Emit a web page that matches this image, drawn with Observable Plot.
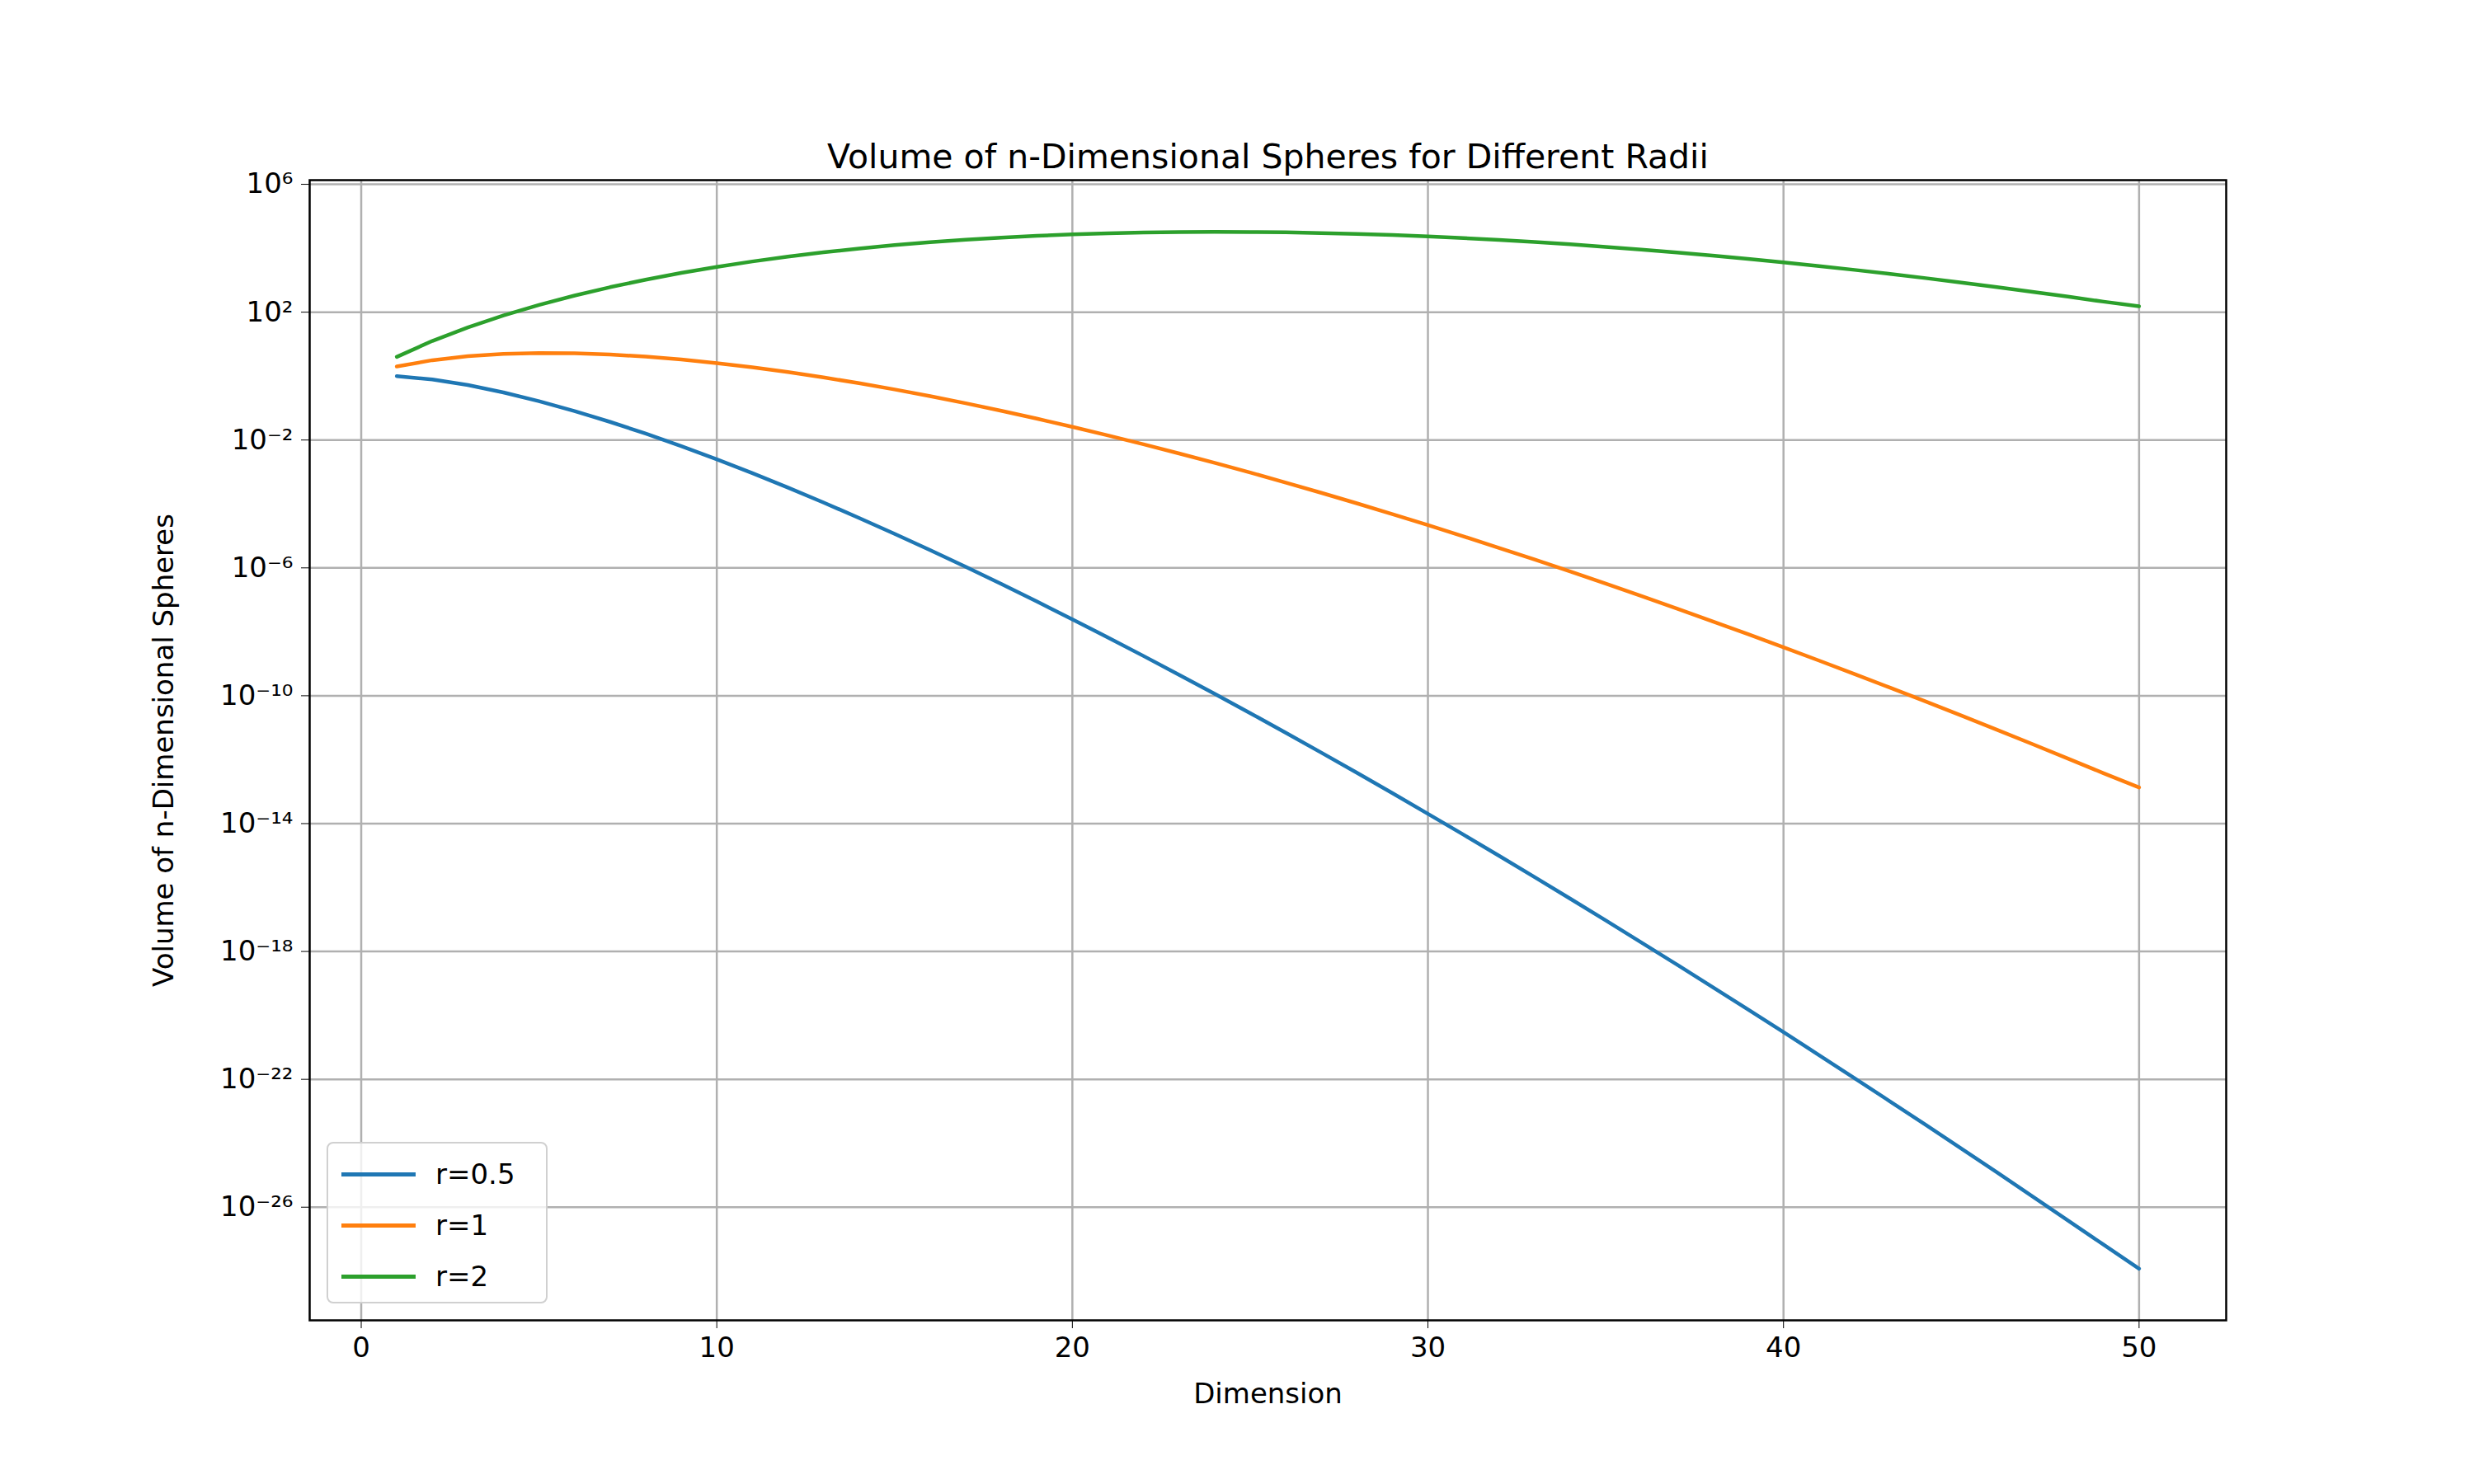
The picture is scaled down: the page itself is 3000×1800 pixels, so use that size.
<!DOCTYPE html>
<html><head><meta charset="utf-8">
<script src="https://cdn.jsdelivr.net/npm/d3@7"></script>
<script src="https://cdn.jsdelivr.net/npm/@observablehq/plot@0.6"></script>
<style>body{margin:0;background:#fff;font-family:"DejaVu Sans",sans-serif}#wrap{position:relative;width:3000px;height:1800px}
#legend{position:absolute;left:396px;top:1385px;width:268px;height:196px;border:2px solid #d0d0d0;border-radius:8px;background:rgba(255,255,255,0.8);font-size:34px;box-sizing:border-box;padding-top:6px}
.row{display:flex;align-items:center;height:62px}.sw{width:90px;height:5px;margin:0 24px 0 16px}</style>
</head><body><div id="wrap"><div id="legend"></div></div>
<script>
const dims = d3.range(1, 51);
const radii = ["r=0.5", "r=1", "r=2"];
const colors = ["#1f77b4", "#ff7f0e", "#2ca02c"];
const vHalf = [1,0.7854,0.5236,0.30843,0.16449,0.080745,0.036912,0.015854,0.0064424,0.0024904,9.1997e-4,3.2599e-4,1.1116e-4,3.6576e-5,1.1641e-5,3.5909e-6,1.0756e-6,3.1336e-7,8.8924e-8,2.4611e-8,6.6505e-9,1.7573e-9,4.5452e-10,1.1513e-10,2.8581e-11,6.9565e-12,1.6611e-12,3.893e-13,8.9597e-14,2.0259e-14,4.5031e-15,9.843e-16,2.1174e-16,4.4846e-17,9.3561e-18,1.9235e-18,3.8977e-19,7.7877e-20,1.5347e-20,2.9838e-21,5.7249e-22,1.0842e-22,2.0272e-23,3.7436e-24,6.8287e-25,1.2308e-25,2.1922e-26,3.8594e-27,6.7167e-28,1.1956e-28];
const vOne = [2,3.14159,4.18879,4.9348,5.26379,5.16771,4.72477,4.05871,3.29851,2.55016,1.8841,1.33526,0.910629,0.599265,0.381443,0.235331,0.140981,0.0821459,0.0466216,0.0258069,0.0139471,0.00737043,0.00381278,0.00193158,9.59016e-4,4.66848e-4,2.22953e-4,1.04502e-4,4.81009e-5,2.17532e-5,9.67e-6,4.2275e-6,1.8188e-6,7.7044e-7,3.2147e-7,1.3218e-7,5.357e-8,2.1407e-8,8.4375e-9,3.2807e-9,1.2589e-9,4.7682e-10,1.7831e-10,6.5856e-11,2.4026e-11,8.6606e-12,3.0851e-12,1.0863e-12,3.7811e-13,1.3462e-13];
const vTwo = [4,12.566,33.51,78.96,168.4,330.7,604.8,1039,1689,2611,3859,5469,7460,9818,12499,15423,18478,21534,24443,27061,29249,30914,31985,32407,32179,31330,29924,28052,25824,23357,20766,18157,15623,13236,11046,9083,7362,5885,4639,3607,2768,2097,1568,1159,845,609,434,306,213,152];
const yTicks = [1e6,1e2,1e-2,1e-6,1e-10,1e-14,1e-18,1e-22,1e-26];
const series = [vHalf, vOne, vTwo];
const data = series.flatMap((s, k) => s.map((v, i) => ({n: dims[i], v, r: radii[k]})));
const sup = {"-":"⁻","0":"⁰","1":"¹","2":"²","3":"³","4":"⁴","5":"⁵","6":"⁶","7":"⁷","8":"⁸","9":"⁹"};
const fmt = d => "10" + String(Math.round(Math.log10(d))).split("").map(c => sup[c]).join("");
const chart = Plot.plot({
  width: 3000, height: 1800,
  marginLeft: 375, marginRight: 301, marginTop: 218, marginBottom: 199,
  style: {fontFamily: "DejaVu Sans, sans-serif", fontSize: "34px", color: "#000"},
  x: {domain: [-1.45, 52.45], ticks: [0,10,20,30,40,50], tickSize: 10, tickPadding: 10, label: "Dimension", labelAnchor: "center", labelArrow: "none", labelOffset: 100, grid: false},
  y: {type: "log", domain: [Math.pow(10,-29.54), Math.pow(10,6.13)], ticks: yTicks, tickFormat: fmt, tickSize: 10, tickPadding: 10, label: "Volume of n-Dimensional Spheres", labelAnchor: "center", labelArrow: "none", labelOffset: 190},
  color: {domain: radii, range: colors},
  marks: [
    Plot.gridX([0,10,20,30,40,50], {stroke: "#b0b0b0", strokeOpacity: 1, strokeWidth: 2.5}),
    Plot.gridY(yTicks, {stroke: "#b0b0b0", strokeOpacity: 1, strokeWidth: 2.5}),
    Plot.line(data, {x: "n", y: "v", stroke: "r", strokeWidth: 4.5}),
    Plot.frame({stroke: "#000", strokeWidth: 2.5}),
    Plot.text(["Volume of n-Dimensional Spheres for Different Radii"], {frameAnchor: "top", dy: -44, fontSize: 41, fill: "#000"})
  ]
});
document.getElementById("wrap").prepend(chart);
const lg = document.getElementById("legend");
radii.forEach((r, k) => { lg.innerHTML += `<div class="row"><div class="sw" style="background:${colors[k]}"></div>${r}</div>`; });
</script></body></html>
